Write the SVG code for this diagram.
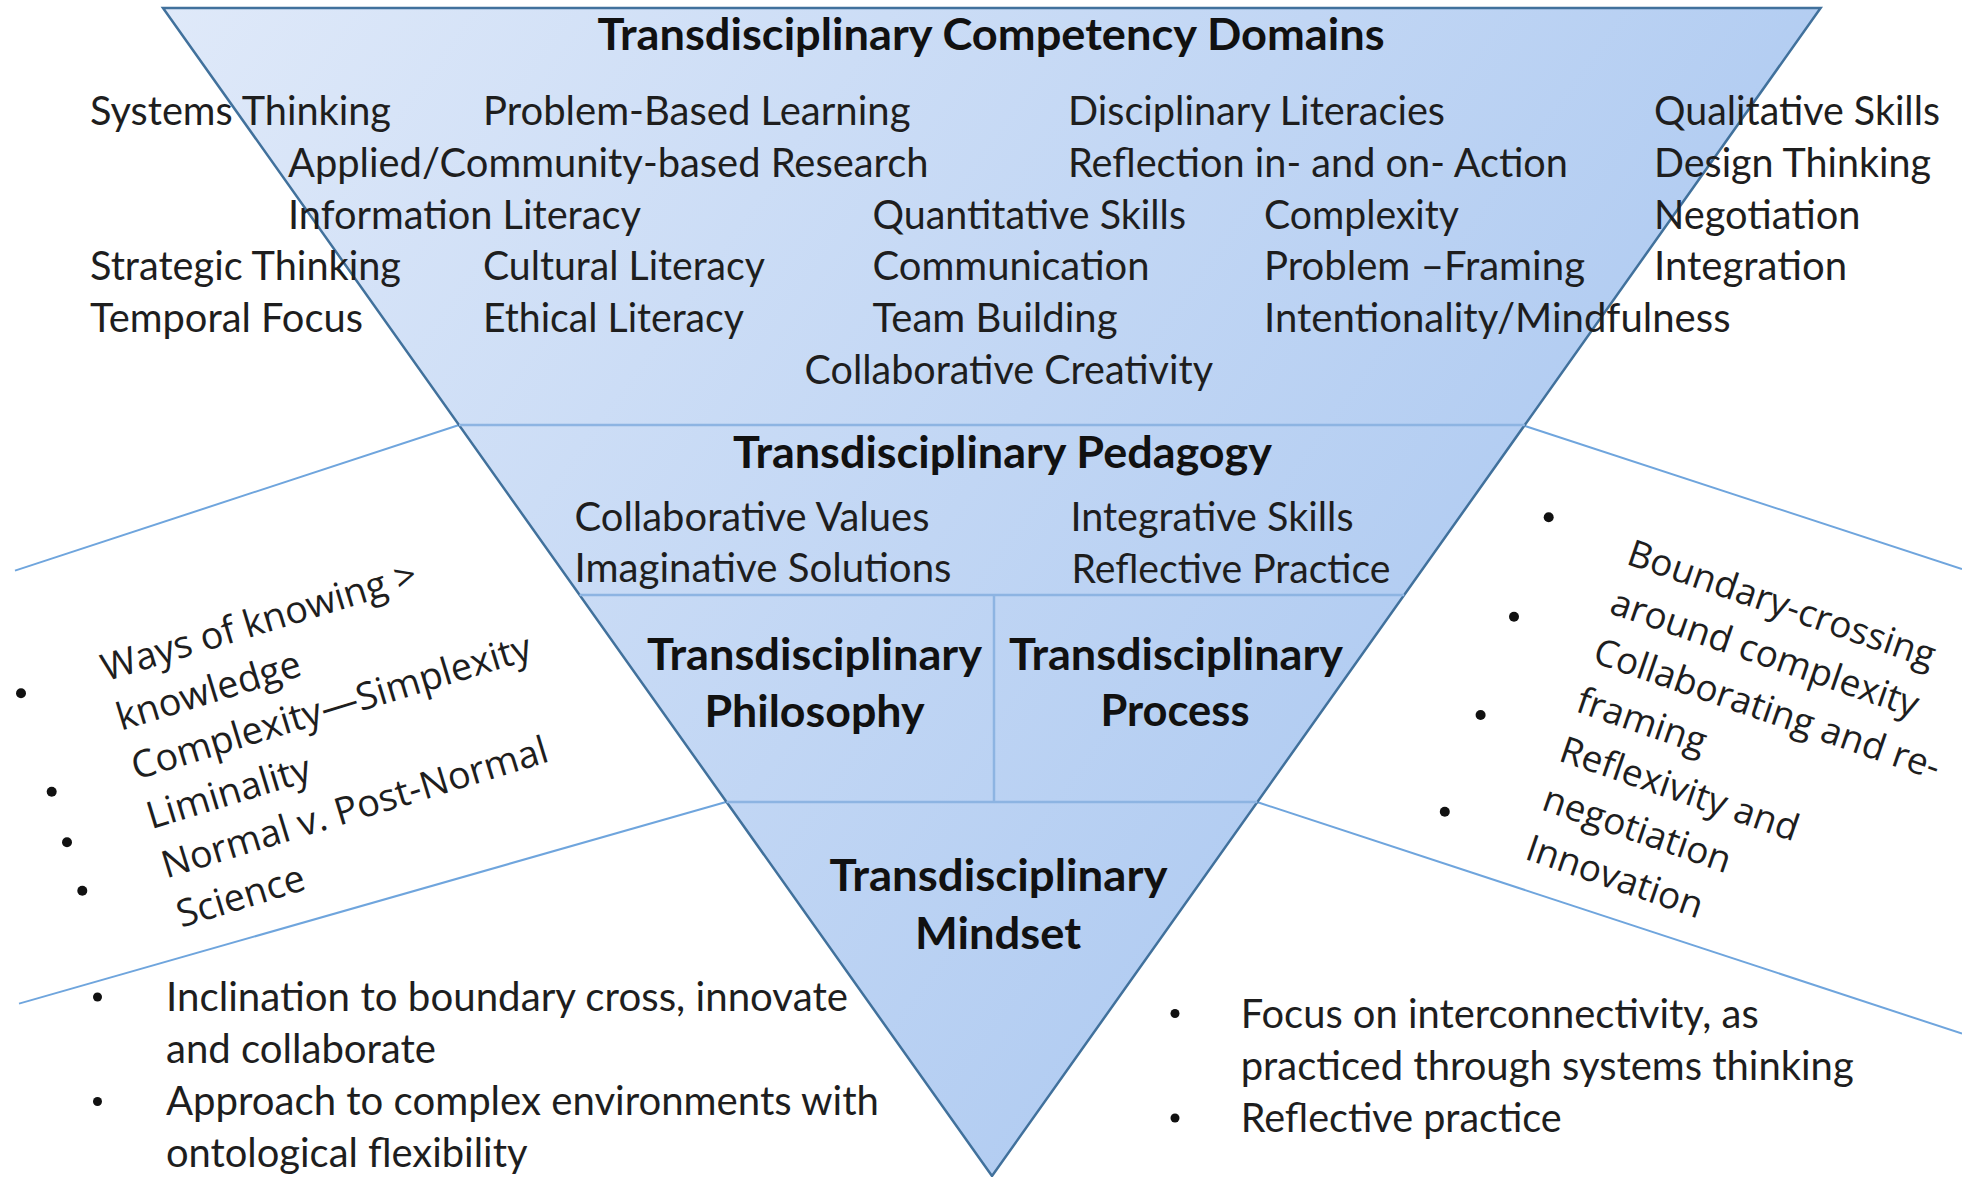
<svg xmlns="http://www.w3.org/2000/svg" width="1962" height="1177" viewBox="0 0 1962 1177">
<defs>
<linearGradient id="fillGrad" gradientUnits="userSpaceOnUse" x1="163" y1="8" x2="1400" y2="900">
<stop offset="0" stop-color="#dfe9f9"/>
<stop offset="1" stop-color="#aecaf1"/>
</linearGradient>
<style>
.b{font-family:Lato,"Liberation Sans",sans-serif;font-size:40px;fill:#1e1e1e}
.h{font-family:Lato,"Liberation Sans",sans-serif;font-size:43px;font-weight:bold;fill:#111}
.r{font-family:"Open Sans","Liberation Sans",sans-serif;font-size:37px;fill:#1e1e1e}
.rl{font-size:37.8px}
.div{stroke:#8db4e2;stroke-width:2.5;fill:none}
.side{stroke:#6fa5dd;stroke-width:2;fill:none}
.dot{fill:#111}
</style>
</defs>
<rect width="1962" height="1177" fill="#ffffff"/>

<g id="connectors">
<line class="side" x1="459" y1="425" x2="15" y2="570.6"/>
<line class="side" x1="726" y1="802" x2="19" y2="1003.6"/>
<line class="side" x1="1525" y1="426" x2="1962" y2="569"/>
<line class="side" x1="1257" y1="802" x2="1962" y2="1033.6"/>
</g>

<g id="pyramid">
<polygon points="163,8 1820.6,8 992,1176" fill="url(#fillGrad)" stroke="#41719c" stroke-width="2.5" stroke-linejoin="miter"/>
<line class="div" x1="459" y1="425" x2="1524.8" y2="425"/>
<line class="div" x1="579.6" y1="595" x2="1404.2" y2="595"/>
<line class="div" x1="726.5" y1="802" x2="1257.3" y2="802"/>
<line class="div" x1="994" y1="595" x2="994" y2="802"/>
</g>

<g id="competency-domains">
<text class="h" x="597.5" y="50" textLength="787" lengthAdjust="spacingAndGlyphs" font-size="42">Transdisciplinary Competency Domains</text>
<text class="b" x="90" y="125" textLength="301" lengthAdjust="spacingAndGlyphs">Systems Thinking</text>
<text class="b" x="483" y="125" textLength="427.5" lengthAdjust="spacingAndGlyphs">Problem-Based Learning</text>
<text class="b" x="1068" y="125" textLength="377" lengthAdjust="spacingAndGlyphs">Disciplinary Literacies</text>
<text class="b" x="1654" y="125" textLength="286" lengthAdjust="spacingAndGlyphs">Qualitative Skills</text>
<text class="b" x="288" y="177" textLength="640.5" lengthAdjust="spacingAndGlyphs">Applied/Community-based Research</text>
<text class="b" x="1068" y="177" textLength="500" lengthAdjust="spacingAndGlyphs">Reflection in- and on- Action</text>
<text class="b" x="1654" y="177" textLength="277" lengthAdjust="spacingAndGlyphs">Design Thinking</text>
<text class="b" x="288" y="229" textLength="353" lengthAdjust="spacingAndGlyphs">Information Literacy</text>
<text class="b" x="872.5" y="229" textLength="313.5" lengthAdjust="spacingAndGlyphs">Quantitative Skills</text>
<text class="b" x="1264" y="229" textLength="195" lengthAdjust="spacingAndGlyphs">Complexity</text>
<text class="b" x="1654" y="229" textLength="206.5" lengthAdjust="spacingAndGlyphs">Negotiation</text>
<text class="b" x="90" y="280" textLength="311" lengthAdjust="spacingAndGlyphs">Strategic Thinking</text>
<text class="b" x="483" y="280" textLength="282" lengthAdjust="spacingAndGlyphs">Cultural Literacy</text>
<text class="b" x="872.5" y="280" textLength="277" lengthAdjust="spacingAndGlyphs">Communication</text>
<text class="b" x="1264" y="280" textLength="321" lengthAdjust="spacingAndGlyphs">Problem –Framing</text>
<text class="b" x="1654" y="280" textLength="193" lengthAdjust="spacingAndGlyphs">Integration</text>
<text class="b" x="90" y="332" textLength="273" lengthAdjust="spacingAndGlyphs">Temporal Focus</text>
<text class="b" x="483" y="332" textLength="261" lengthAdjust="spacingAndGlyphs">Ethical Literacy</text>
<text class="b" x="872.5" y="332" textLength="245" lengthAdjust="spacingAndGlyphs">Team Building</text>
<text class="b" x="1264" y="332" textLength="466.5" lengthAdjust="spacingAndGlyphs">Intentionality/Mindfulness</text>
<text class="b" x="804.5" y="384" textLength="408.5" lengthAdjust="spacingAndGlyphs">Collaborative Creativity</text>
</g>

<g id="pedagogy">
<text class="h" x="733" y="468" textLength="539" lengthAdjust="spacingAndGlyphs" font-size="42">Transdisciplinary Pedagogy</text>
<text class="b" x="574.5" y="531" textLength="355" lengthAdjust="spacingAndGlyphs">Collaborative Values</text>
<text class="b" x="574.5" y="582" textLength="377" lengthAdjust="spacingAndGlyphs">Imaginative Solutions</text>
<text class="b" x="1070.5" y="531" textLength="283" lengthAdjust="spacingAndGlyphs">Integrative Skills</text>
<text class="b" x="1071.5" y="583" textLength="319" lengthAdjust="spacingAndGlyphs">Reflective Practice</text>
</g>

<g id="philosophy">
<text class="h" x="814.5" y="670" text-anchor="middle" textLength="335" lengthAdjust="spacingAndGlyphs">Transdisciplinary</text>
<text class="h" x="814.5" y="727" text-anchor="middle" textLength="220" lengthAdjust="spacingAndGlyphs">Philosophy</text>
</g>

<g id="process">
<text class="h" x="1176" y="670" text-anchor="middle" textLength="334" lengthAdjust="spacingAndGlyphs">Transdisciplinary</text>
<text class="h" x="1175" y="726" text-anchor="middle" textLength="149" lengthAdjust="spacingAndGlyphs">Process</text>
</g>

<g id="mindset">
<text class="h" x="998.5" y="891" text-anchor="middle" textLength="338" lengthAdjust="spacingAndGlyphs">Transdisciplinary</text>
<text class="h" x="998" y="949" text-anchor="middle" textLength="166" lengthAdjust="spacingAndGlyphs">Mindset</text>
</g>

<g id="philosophy-notes">
<circle class="dot" cx="21" cy="693.3" r="5"/>
<circle class="dot" cx="51.7" cy="791.7" r="5"/>
<circle class="dot" cx="67" cy="842.3" r="5"/>
<circle class="dot" cx="82.3" cy="890.7" r="5"/>
<g transform="translate(106,681.5) rotate(-17)">
<text class="r rl" x="0" y="0">Ways of knowing &gt;</text>
<text class="r rl" x="0" y="51.5">knowledge</text>
<text class="r rl" x="0" y="103">Complexity—Simplexity</text>
<text class="r rl" x="0" y="154.5">Liminality</text>
<text class="r rl" x="0" y="206">Normal v. Post-Normal</text>
<text class="r rl" x="0" y="257.5">Science</text>
</g>
</g>

<g id="process-notes">
<circle class="dot" cx="1548.7" cy="517.3" r="5"/>
<circle class="dot" cx="1514" cy="616.7" r="5"/>
<circle class="dot" cx="1480.6" cy="715" r="5"/>
<circle class="dot" cx="1444.8" cy="811.7" r="5"/>
<g transform="translate(1625,563.5) rotate(19)">
<text class="r" x="0" y="0">Boundary-crossing</text>
<text class="r" x="0" y="52">around complexity</text>
<text class="r" x="0" y="104">Collaborating and re-</text>
<text class="r" x="0" y="156">framing</text>
<text class="r" x="0" y="208">Reflexivity and</text>
<text class="r" x="0" y="260">negotiation</text>
<text class="r" x="0" y="312">Innovation</text>
</g>
</g>

<g id="mindset-notes-left">
<circle class="dot" cx="97.5" cy="997" r="4.5"/>
<circle class="dot" cx="97.5" cy="1101.5" r="4.5"/>
<text class="b" x="166" y="1010.5" textLength="682" lengthAdjust="spacingAndGlyphs">Inclination to boundary cross, innovate</text>
<text class="b" x="166" y="1063" textLength="270" lengthAdjust="spacingAndGlyphs">and collaborate</text>
<text class="b" x="166" y="1115" textLength="713" lengthAdjust="spacingAndGlyphs">Approach to complex environments with</text>
<text class="b" x="166" y="1167" textLength="361.5" lengthAdjust="spacingAndGlyphs">ontological flexibility</text>
</g>

<g id="mindset-notes-right">
<circle class="dot" cx="1175" cy="1013.5" r="4.5"/>
<circle class="dot" cx="1175" cy="1118" r="4.5"/>
<text class="b" x="1240.7" y="1028" textLength="518" lengthAdjust="spacingAndGlyphs">Focus on interconnectivity, as</text>
<text class="b" x="1240.7" y="1079.5" textLength="613" lengthAdjust="spacingAndGlyphs">practiced through systems thinking</text>
<text class="b" x="1240.7" y="1131.5" textLength="321" lengthAdjust="spacingAndGlyphs">Reflective practice</text>
</g>
</svg>
